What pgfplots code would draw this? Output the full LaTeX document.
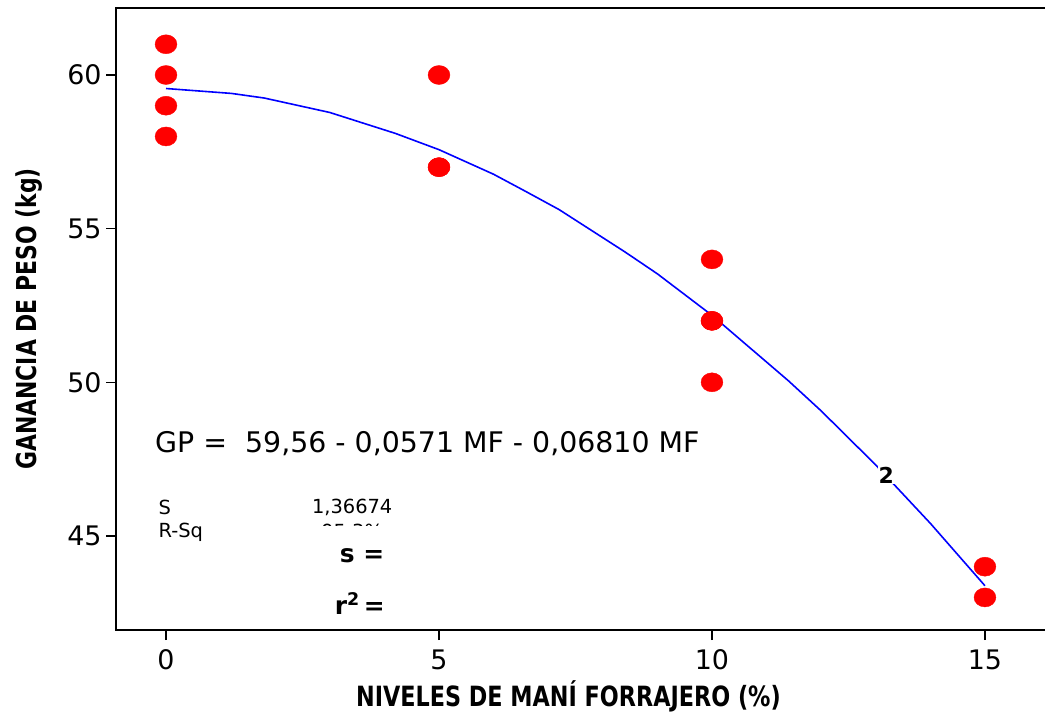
\documentclass[border=0pt]{standalone}
\usepackage{pgfplots}
\pgfplotsset{compat=1.18}
\usepackage{fontspec}
\setmainfont{DejaVu Sans}
\begin{document}
\begin{tikzpicture}[x=1bp,y=1bp]
\begin{axis}[
  name=ax,
  scale only axis,
  width=929bp, height=622bp,
  xmin=-0.916, xmax=16.10,
  ymin=41.94, ymax=62.18,
  xtick={0,5,10,15}, ytick={45,50,55,60},
  xtick pos=bottom, ytick pos=left,
  tick align=outside,
  major tick length=10bp,
  tick style={black, line width=1.3bp},
  x tick label style={font=\fontsize{27}{27}\selectfont, yshift=-6bp},
  y tick label style={font=\fontsize{27}{27}\selectfont, xshift=-1bp},
  /pgf/number format/assume math mode=true,
  axis line style={draw=none},
  clip=false,
  xlabel={\scalebox{0.8}[1]{\bfseries NIVELES DE MANÍ FORRAJERO (\%)}},
  xlabel style={font=\fontsize{28}{28}\selectfont, yshift=-4bp, xshift=-12bp},
  ylabel={\scalebox{0.8}[1]{\bfseries GANANCIA DE PESO (kg)}},
  ylabel style={font=\fontsize{27.5}{27.5}\selectfont, yshift=18bp},
]
\draw[line width=2.4bp, line cap=rect] (rel axis cs:1,1) -- (rel axis cs:0,1) -- (rel axis cs:0,0) -- (rel axis cs:1,0);
\addplot[blue, line width=1.6bp] coordinates {
 (0,59.56) (1.2,59.40) (1.8,59.25) (3,58.78) (4.2,58.10) (5,57.57)
 (6,56.77) (6.6,56.20) (7.2,55.62) (8.4,54.25) (9,53.53) (10,52.18) (11.4,50.05)
 (12,49.07) (13,47.31) (14,45.41) (15,43.38)};
\addplot[only marks, mark=*, mark size=9.5bp, red, mark options={draw=red, fill=red, xscale=1.15}] coordinates {
 (0,61) (0,60) (0,59) (0,58)
 (5,60) (5,57) (5,57)
 (10,54) (10,52) (10,52) (10,50)
 (15,44) (15,43)};
\node[anchor=west, font=\fontsize{28.5}{28.5}\selectfont, fill=white, inner sep=1bp] at (axis cs:-0.22,48.02) {GP =\ \ 59,56 - 0,0571 MF - 0,06810 MF};
\node[font=\bfseries\fontsize{22}{22}\selectfont, fill=white, inner sep=1bp] at (axis cs:13.19,46.98) {2};
\node[anchor=west, font=\fontsize{19.5}{19.5}\selectfont] at (axis cs:-0.20,45.94) {S};
\node[font=\fontsize{19.5}{19.5}\selectfont] at (axis cs:3.41,45.94) {1,36674};
\node[anchor=west, font=\fontsize{19.5}{19.5}\selectfont] at (axis cs:-0.20,45.13) {R-Sq};
\begin{scope}
\clip (axis cs:2.5,45.33) rectangle (axis cs:4.5,45.6);
\node[font=\fontsize{19.5}{19.5}\selectfont] at (axis cs:3.41,45.10) {95,3\%};
\end{scope}
\node[font=\bfseries\fontsize{25}{25}\selectfont] at (axis cs:3.59,44.35) {s\ =};
\node[font=\bfseries\fontsize{25}{25}\selectfont] at (axis cs:3.55,42.79) {r\textsuperscript{2}\,=};
\end{axis}
\pgfresetboundingbox
\path ([xshift=-116bp,yshift=-82bp]ax.south west) rectangle ([yshift=8bp]ax.north east);
\end{tikzpicture}
\end{document}
